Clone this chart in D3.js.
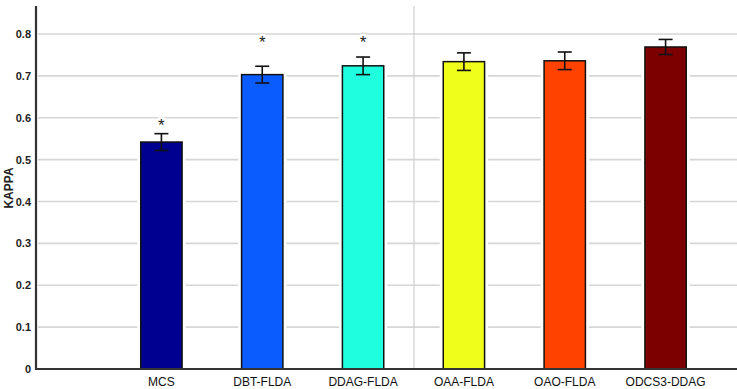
<!DOCTYPE html>
<html>
<head>
<meta charset="utf-8">
<script src="https://cdn.jsdelivr.net/npm/d3@7"></script>
<style>
  body { margin: 0; background: #fff; }
  text { font-family: Arial, "Liberation Sans", sans-serif; }
</style>
</head>
<body>
<svg id="chart" width="737" height="389"></svg>
<script>
// data
const methods = ["MCS", "DBT-FLDA", "DDAG-FLDA", "OAA-FLDA", "OAO-FLDA", "ODCS3-DDAG"]
const kappa = [0.542, 0.703, 0.724, 0.734, 0.736, 0.769]
const kappaErr = [0.020, 0.020, 0.021, 0.021, 0.021, 0.018]
const colors = ["#000090", "#0a5cff", "#1fffe0", "#effe1a", "#ff4200", "#7c0000"]
const starLevel = [0.595, 0.793, 0.793, null, null, null]
const yTicks = [0, 0.1, 0.2, 0.3, 0.4, 0.5, 0.6, 0.7, 0.8]

let svg = d3.select("#chart")

let y = d3.scaleLinear().domain([0, 0.8]).range([369, 34])
let x = d3.scaleBand().domain(methods).range([111, 716])
    .paddingInner(0.59).paddingOuter(0.295)

// grid lines
svg.append("g").selectAll("line")
    .data(yTicks.filter(d => d > 0))
    .enter()
    .append("line")
        .attr("x1", 38)
        .attr("x2", 737)
        .attr("y1", d => y(d))
        .attr("y2", d => y(d))
        .attr("stroke", "#d6d6d6")
        .attr("stroke-width", 1.6)

// divider between the two groups
svg.append("line")
    .attr("x1", 414).attr("x2", 414)
    .attr("y1", 6).attr("y2", 369)
    .attr("stroke", "#cfcfcf")
    .attr("stroke-width", 1.2)

let rows = methods.map((m, i) => ({m: m, v: kappa[i], e: kappaErr[i], c: colors[i], s: starLevel[i]}))

// white halo so grid stops short of the bars
svg.append("g").selectAll("rect")
    .data(rows)
    .enter()
    .append("rect")
        .attr("x", d => x(d.m))
        .attr("y", d => y(d.v))
        .attr("width", x.bandwidth())
        .attr("height", d => y(0) - y(d.v))
        .attr("fill", "none")
        .attr("stroke", "#fff")
        .attr("stroke-width", 7)

svg.append("g").selectAll("rect")
    .data(rows)
    .enter()
    .append("rect")
        .attr("x", d => x(d.m))
        .attr("y", d => y(d.v))
        .attr("width", x.bandwidth())
        .attr("height", d => y(0) - y(d.v))
        .attr("fill", d => d.c)
        .attr("stroke", "#111")
        .attr("stroke-width", 1.5)

// error bars
let eb = svg.append("g").attr("stroke", "#111").attr("stroke-width", 1.6)
rows.forEach(d => {
    let cx = x(d.m) + x.bandwidth() / 2
    eb.append("line").attr("x1", cx).attr("x2", cx).attr("y1", y(d.v + d.e)).attr("y2", y(d.v - d.e))
    eb.append("line").attr("x1", cx - 7).attr("x2", cx + 7).attr("y1", y(d.v + d.e)).attr("y2", y(d.v + d.e))
    eb.append("line").attr("x1", cx - 7).attr("x2", cx + 7).attr("y1", y(d.v - d.e)).attr("y2", y(d.v - d.e))
})

// significance stars
svg.append("g").selectAll("text")
    .data(rows.filter(d => d.s != null))
    .enter()
    .append("text")
        .attr("x", d => x(d.m) + x.bandwidth() / 2)
        .attr("y", d => y(d.s) + 11)
        .attr("text-anchor", "middle")
        .attr("font-size", "17px")
        .attr("fill", "#222")
        .attr("stroke", "#fff")
        .attr("stroke-width", 4)
        .attr("paint-order", "stroke")
        .text("*")

// axes
let yAxis = svg.append("g")
    .attr("transform", "translate(36,0)")
    .call(d3.axisLeft(y).tickValues(yTicks).tickSize(0).tickPadding(5)
        .tickFormat(d => d === 0 ? "0" : d3.format(".1f")(d)))
yAxis.select(".domain").attr("stroke", "#333").attr("stroke-width", 2.2).attr("d", "M0,6V370")
yAxis.selectAll("text").attr("font-size", "11px").attr("font-weight", "bold").attr("fill", "#222")

let xAxis = svg.append("g")
    .attr("transform", "translate(0,369)")
    .call(d3.axisBottom(x).tickSize(0).tickPadding(8))
xAxis.select(".domain").attr("stroke", "#333").attr("stroke-width", 2.2).attr("d", "M35,0H737")
xAxis.selectAll("text").attr("font-size", "12px").attr("fill", "#111")

svg.append("text")
    .attr("transform", "translate(13,188) rotate(-90)")
    .attr("text-anchor", "middle")
    .attr("font-size", "12px")
    .attr("font-weight", "bold")
    .attr("fill", "#222")
    .text("KAPPA")
</script>
</body>
</html>
